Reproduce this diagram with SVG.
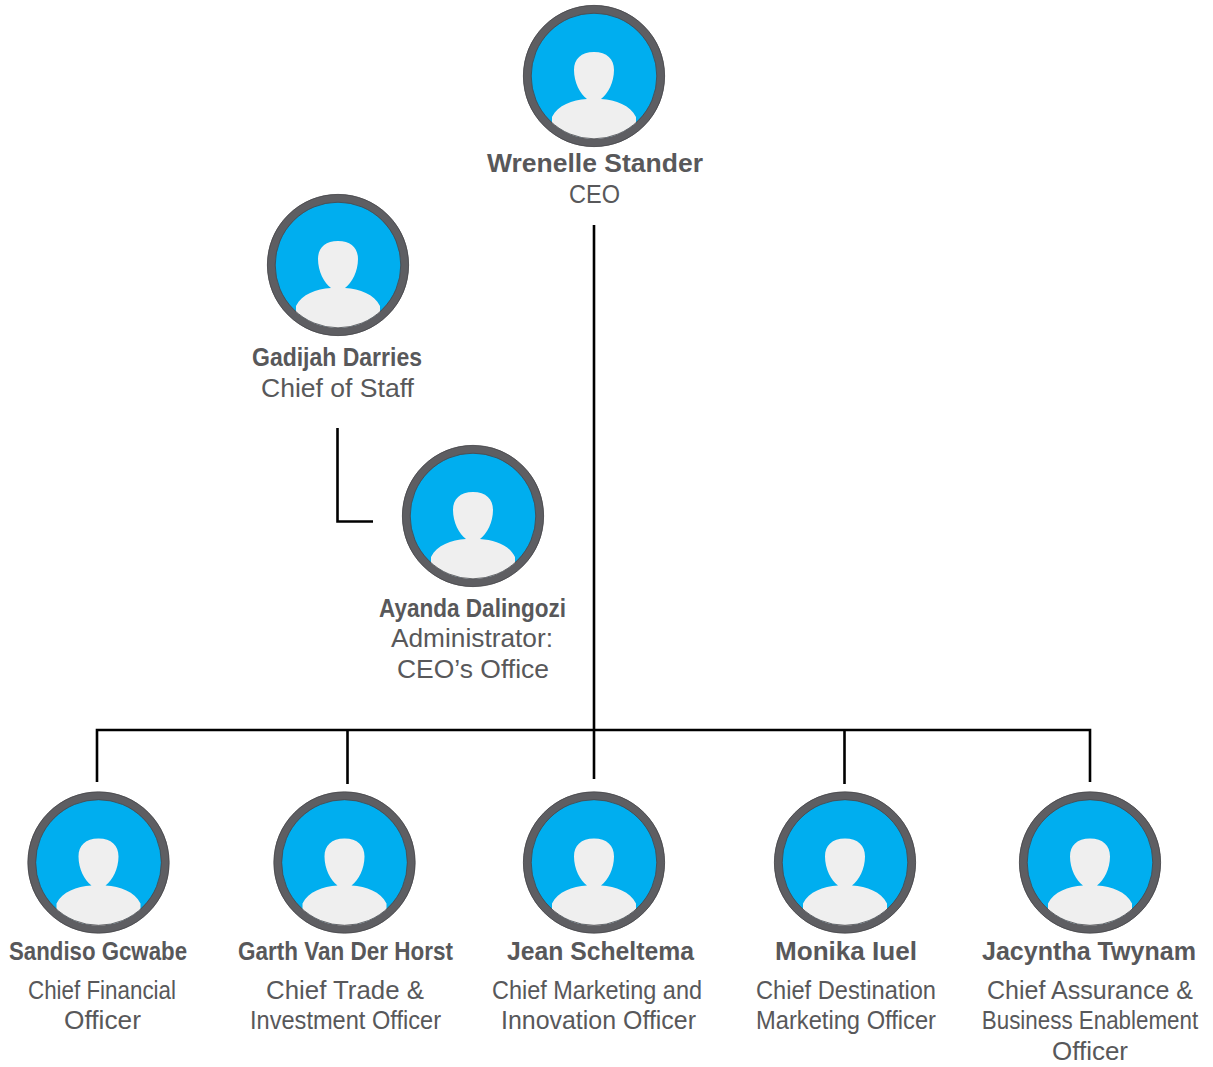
<svg xmlns="http://www.w3.org/2000/svg" width="1213" height="1067" viewBox="0 0 1213 1067">
<style>
text{font-family:"Liberation Sans",Arial,sans-serif;fill:#58585a;text-anchor:middle}
.n{font-weight:700;font-size:25px}
.t{font-size:25.5px}
.c{fill:none;stroke:#000;stroke-width:2.6}
</style>
<defs>
<clipPath id="clip"><circle r="63"/></clipPath>
<g id="av">
<circle r="66.700" fill="#00aeef" stroke="#5e5e62" stroke-width="8.200"/>
<g clip-path="url(#clip)">
<path d="M0-24C13-24 20-17 20-6C20 6 14 18 7 23C22 24 36 29 42 41V70H-42V41C-36 29-22 24-7 23C-14 18-20 6-20-6C-20-17-13-24 0-24Z" fill="#efefef"/>
</g>
<circle r="62.800" fill="none" stroke="#46464a" stroke-width="0.800"/>
<circle r="70.600" fill="none" stroke="#46464a" stroke-width="0.800"/>
</g>
</defs>
<g id="connectors">
<path class="c" d="M594 225V779"/>
<path class="c" d="M97 782V730H1090V782"/>
<path class="c" d="M347.500 730V784M844.500 730V784"/>
<path class="c" d="M337.500 428V521.500H373"/>
</g>
<g id="ceo"><use href="#av" x="594" y="76"/><text class="n" x="595" y="172" textLength="216" lengthAdjust="spacingAndGlyphs">Wrenelle Stander</text><text class="t" x="594.500" y="203" textLength="51" lengthAdjust="spacingAndGlyphs">CEO</text></g>
<g id="gadijah"><use href="#av" x="338" y="265"/><text class="n" x="337" y="366" textLength="170" lengthAdjust="spacingAndGlyphs">Gadijah Darries</text><text class="t" x="337.500" y="397" textLength="153" lengthAdjust="spacingAndGlyphs">Chief of Staff</text></g>
<g id="ayanda"><use href="#av" x="473" y="516"/><text class="n" x="472.500" y="617" textLength="187" lengthAdjust="spacingAndGlyphs">Ayanda Dalingozi</text><text class="t" x="472" y="647" textLength="162" lengthAdjust="spacingAndGlyphs">Administrator:</text><text class="t" x="473" y="678" textLength="152" lengthAdjust="spacingAndGlyphs">CEO’s Office</text></g>
<g id="sandiso"><use href="#av" x="98.500" y="862.500"/><text class="n" x="98" y="960" textLength="178" lengthAdjust="spacingAndGlyphs">Sandiso Gcwabe</text><text class="t" x="102" y="999" textLength="148" lengthAdjust="spacingAndGlyphs">Chief Financial</text><text class="t" x="102.500" y="1029" textLength="77" lengthAdjust="spacingAndGlyphs">Officer</text></g>
<g id="garth"><use href="#av" x="344.500" y="862.500"/><text class="n" x="345.500" y="960" textLength="215" lengthAdjust="spacingAndGlyphs">Garth Van Der Horst</text><text class="t" x="345" y="999" textLength="158" lengthAdjust="spacingAndGlyphs">Chief Trade &amp;</text><text class="t" x="345.500" y="1029" textLength="191" lengthAdjust="spacingAndGlyphs">Investment Officer</text></g>
<g id="jean"><use href="#av" x="594" y="862.500"/><text class="n" x="600.500" y="960" textLength="187" lengthAdjust="spacingAndGlyphs">Jean Scheltema</text><text class="t" x="597" y="999" textLength="210" lengthAdjust="spacingAndGlyphs">Chief Marketing and</text><text class="t" x="598.500" y="1029" textLength="195" lengthAdjust="spacingAndGlyphs">Innovation Officer</text></g>
<g id="monika"><use href="#av" x="845" y="862.500"/><text class="n" x="846" y="960" textLength="142" lengthAdjust="spacingAndGlyphs">Monika Iuel</text><text class="t" x="846" y="999" textLength="180" lengthAdjust="spacingAndGlyphs">Chief Destination</text><text class="t" x="846" y="1029" textLength="180" lengthAdjust="spacingAndGlyphs">Marketing Officer</text></g>
<g id="jacyntha"><use href="#av" x="1090" y="862.500"/><text class="n" x="1089" y="960" textLength="214" lengthAdjust="spacingAndGlyphs">Jacyntha Twynam</text><text class="t" x="1090" y="999" textLength="206" lengthAdjust="spacingAndGlyphs">Chief Assurance &amp;</text><text class="t" transform="translate(1090 1029) scale(.878 1)">Business Enablement</text><text class="t" x="1090" y="1060" textLength="76" lengthAdjust="spacingAndGlyphs">Officer</text></g>
</svg>
